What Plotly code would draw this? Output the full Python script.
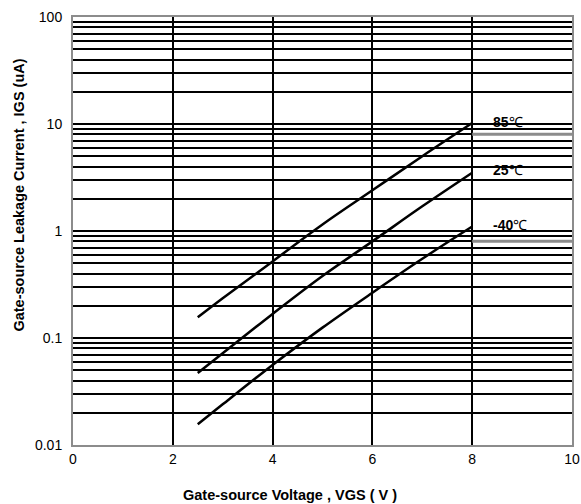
import plotly.graph_objects as go
import numpy as np

vgs = [2.5, 3, 4, 5, 6, 7, 8]
igs_85 = [0.156, 0.235, 0.52, 1.15, 2.4, 5.0, 10.2]
igs_25 = [0.047, 0.072, 0.168, 0.38, 0.80, 1.7, 3.5]
igs_m40 = [0.0156, 0.024, 0.056, 0.125, 0.265, 0.55, 1.1]

series = [("85", igs_85), ("25", igs_25), ("-40", igs_m40)]
label_y = [10.0, 3.56, 1.1]
label_x = 8.38

# grey highlight segments on the right (at 8 and 0.8)
grey_x = [8, 10]
grey_levels = [8, 0.8]

x_title = "Gate-source Voltage , VGS ( V )"
y_title = "Gate-source Leakage Current , IGS (uA)"

decades = [0.01, 0.1, 1, 10]
tickvals = []
ticktext = []
for d in decades:
    for m in range(1, 10):
        tickvals.append(d * m)
        ticktext.append(("%g" % d) if m == 1 else "")
tickvals.append(100)
ticktext.append("100")

FONT = "Liberation Sans, Arial"

fig = go.Figure()
for lv in grey_levels:
    fig.add_trace(go.Scatter(x=grey_x, y=[lv, lv], mode="lines",
                             line=dict(color="#8c8c8c", width=3), hoverinfo="skip"))
for name, ys in series:
    fig.add_trace(go.Scatter(x=vgs, y=ys, mode="lines", line_shape="spline",
                             line=dict(color="black", width=2.5), name=name))

for (name, _), ly in zip(series, label_y):
    fig.add_annotation(x=label_x, y=np.log10(ly), text="<b>%s</b>℃" % name,
                       showarrow=False, xanchor="left", yanchor="middle", yshift=2,
                       font=dict(family=FONT, size=14, color="black"))

fig.add_annotation(xref="paper", yref="paper", x=0.435, y=-0.1175,
                   text="<b>%s</b>" % x_title, showarrow=False,
                   xanchor="center", yanchor="middle",
                   font=dict(family=FONT, size=14.5, color="black"))
fig.add_annotation(xref="paper", yref="paper", x=-0.108, y=0.583,
                   text="<b>%s</b>" % y_title, showarrow=False, textangle=-90,
                   xanchor="center", yanchor="middle",
                   font=dict(family=FONT, size=14.5, color="black"))

fig.update_layout(
    width=581, height=504,
    margin=dict(l=72.5, r=9, t=17, b=59),
    paper_bgcolor="white", plot_bgcolor="white",
    showlegend=False,
    font=dict(family=FONT, size=14, color="black"),
    xaxis=dict(range=[0, 10], tickvals=[0, 2, 4, 6, 8, 10], automargin=False,
               showgrid=True, gridcolor="black", gridwidth=1.5,
               showline=True, linecolor="#8c8c8c", linewidth=2, mirror=True,
               ticks="", zeroline=False),
    yaxis=dict(type="log", range=[-2, 2], tickvals=tickvals, ticktext=ticktext,
               automargin=False,
               showgrid=True, gridcolor="black", gridwidth=1.5,
               showline=True, linecolor="#8c8c8c", linewidth=2, mirror=True,
               ticks="", zeroline=False, ticklabelstandoff=6),
)

fig.write_html("out.html")
